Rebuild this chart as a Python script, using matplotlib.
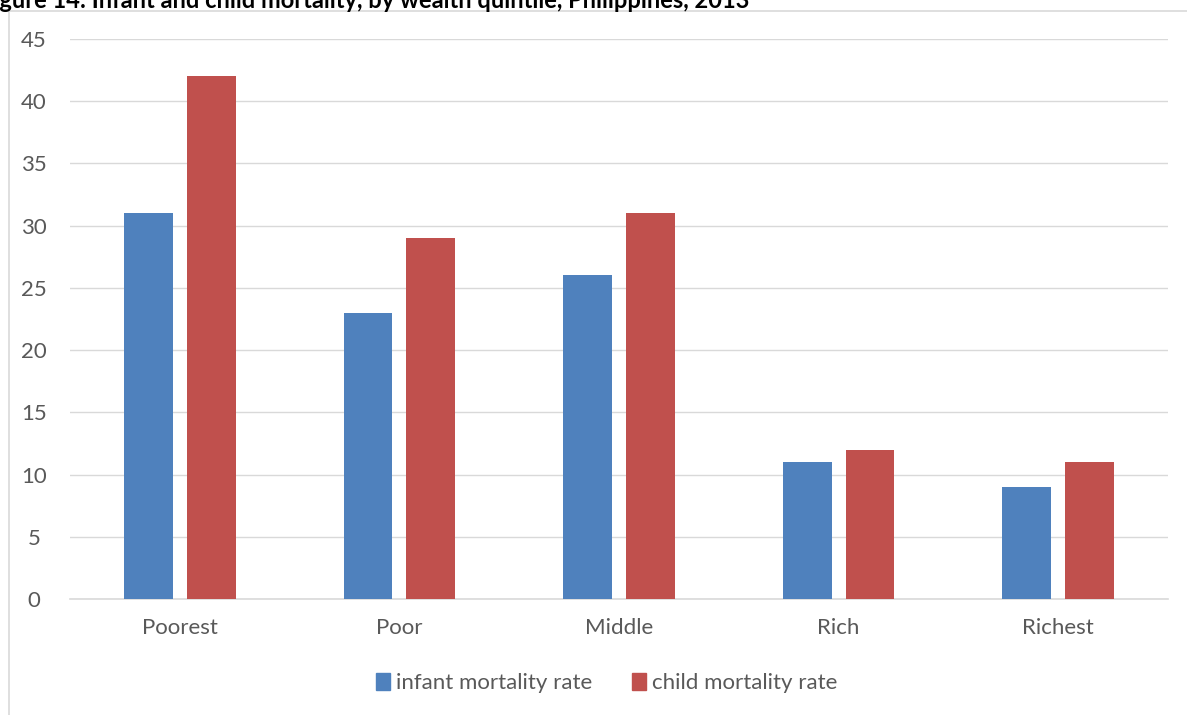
import matplotlib
matplotlib.use("Agg")
import matplotlib.pyplot as plt
from matplotlib.patches import Rectangle, Patch
import numpy as np

categories = ["Poorest", "Poor", "Middle", "Rich", "Richest"]
infant = [31, 23, 26, 11, 9]
child = [42, 29, 31, 12, 11]
series_names = ["infant mortality rate", "child mortality rate"]
yticks = [0, 5, 10, 15, 20, 25, 30, 35, 40, 45]
title = "Figure 14: Infant and child mortality, by wealth quintile, Philippines, 2013"

W, H = 1187, 715
fig = plt.figure(figsize=(W / 100, H / 100), dpi=100)
plt.rcParams['font.family'] = ['Lato', 'DejaVu Sans']

# outer chart border
fig.patches.append(Rectangle((9 / W, -0.1), 1.2, 1 - 11 / H + 0.1, transform=fig.transFigure,
                             fill=False, edgecolor="#d9d9d9", linewidth=1.2))

# title (cut at top as in the reference)
fig.text(-20 / W, 1 - 8 / H, title, ha="left", va="baseline", fontsize=17,
         fontweight="bold", color="black")

ax = fig.add_axes([70 / W, 1 - 599 / H, (1168 - 70) / W, (599 - 39) / H])
x = np.arange(len(categories))
bw = 0.223
off = 0.143
blue = "#4F81BD"
red = "#C0504D"
ax.bar(x - off, infant, bw, color=blue, zorder=3, label=series_names[0])
ax.bar(x + off, child, bw, color=red, zorder=3, label=series_names[1])

ax.set_xlim(-0.5, len(categories) - 0.5)
ax.set_ylim(0, 45)
ax.set_yticks(yticks)
ax.set_xticks(x)
ax.set_xticklabels(categories)
ax.yaxis.grid(True, color="#d9d9d9", linewidth=1, zorder=0)
for s in ["top", "right", "left"]:
    ax.spines[s].set_visible(False)
ax.spines["bottom"].set_color("#d9d9d9")
ax.spines["bottom"].set_linewidth(1.2)
ax.tick_params(axis="both", length=0, labelsize=16, colors="#595959")
ax.tick_params(axis="x", pad=14)
ax.tick_params(axis="y", pad=26)
for lab in ax.get_yticklabels():
    lab.set_horizontalalignment("center")

handles = [Patch(color=blue), Patch(color=red)]
fig.legend(handles, series_names, loc="center", bbox_to_anchor=(607 / W, 1 - 683 / H),
           ncol=2, frameon=False, fontsize=16, labelcolor="#595959",
           handlelength=0.6, handleheight=0.8, handletextpad=0.3, columnspacing=1.8)

fig.savefig("out.png", dpi=100)
